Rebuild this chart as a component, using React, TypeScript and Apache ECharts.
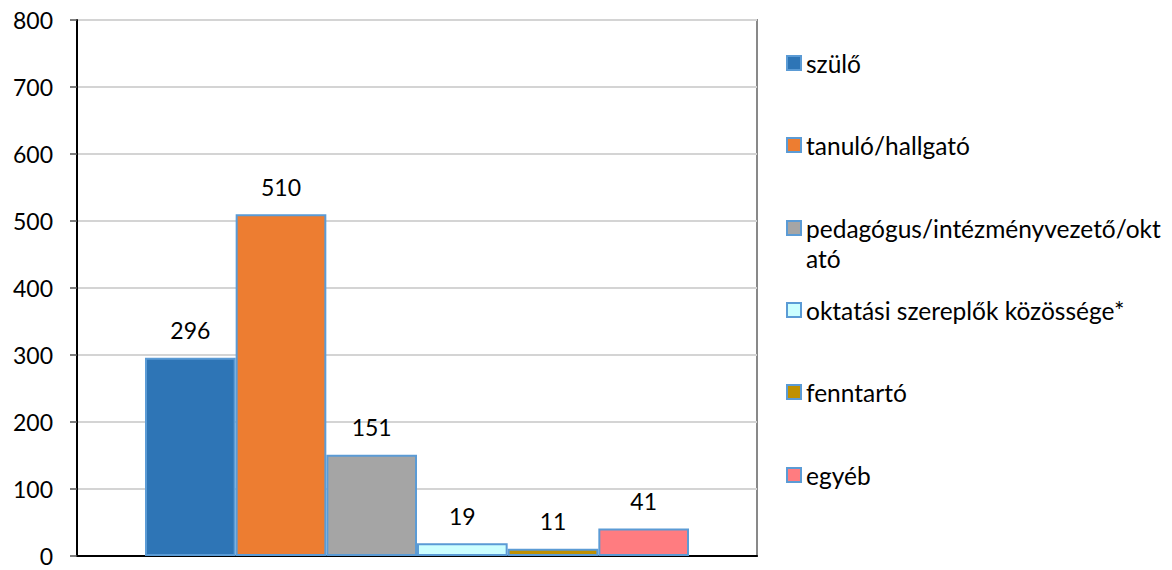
import React, { useEffect, useRef } from "react";
import * as echarts from "echarts";

const categories = [""];
const seriesNames = [
  "szülő",
  "tanuló/hallgató",
  "pedagógus/intézményvezető/oktató",
  "oktatási szereplők közössége*",
  "fenntartó",
  "egyéb",
];
const seriesValues = [296, 510, 151, 19, 11, 41];
const seriesColors = ["#2E75B6", "#ED7D31", "#A5A5A5", "#CCFFFF", "#BF9000", "#FF7C80"];
const yTicks = [0, 100, 200, 300, 400, 500, 600, 700, 800];

const FONT = "Lato";

export default function App() {
  const ref = useRef<HTMLDivElement>(null);
  useEffect(() => {
    if (!ref.current) return;
    const chart = echarts.init(ref.current, undefined, { renderer: "svg" });
    const legendCenters = [63, 145, 228, 310, 392, 475];
    const LH = 30;
    const legends = seriesNames.map((name, i) => {
      const multi = i === 2;
      return {
        show: true,
        orient: "vertical",
        left: 786,
        top: multi ? legendCenters[i] - LH * 1.5 : legendCenters[i] - LH / 2,
        padding: 0,
        itemWidth: 14,
        itemHeight: 14,
        itemGap: 0,
        icon: "rect",
        data: [name],
        formatter: (n: string) =>
          n === "pedagógus/intézményvezető/oktató" ? " \npedagógus/intézményvezető/okt\nató" : n,
        textStyle: {
          fontFamily: FONT,
          fontSize: 24.5,
          color: "#000",
          lineHeight: LH,
        },
      };
    });
    chart.setOption({
      animation: false,
      backgroundColor: "#fff",
      grid: {
        left: 77,
        right: 415,
        top: 20,
        bottom: 14,
        show: true,
        borderColor: "#898989",
        borderWidth: 2,
      },
      legend: legends,
      xAxis: {
        type: "category",
        data: categories,
        axisLine: { show: true, lineStyle: { color: "#000", width: 2 } },
        axisTick: { show: false },
        axisLabel: { show: false },
      },
      yAxis: {
        type: "value",
        min: yTicks[0],
        max: yTicks[yTicks.length - 1],
        interval: 100,
        axisLine: { show: true, lineStyle: { color: "#000", width: 2 } },
        axisTick: { show: true, length: 7, lineStyle: { color: "#555", width: 1.5 } },
        axisLabel: {
          fontFamily: FONT,
          fontSize: 23,
          color: "#000",
          margin: 24,
        },
        splitLine: { show: true, lineStyle: { color: "#D4D4D4", width: 2 } },
      },
      series: seriesNames.map((name, i) => ({
        type: "bar",
        name,
        data: [seriesValues[i]],
        barGap: "0%",
        barCategoryGap: "20%",
        itemStyle: {
          color: seriesColors[i],
          borderColor: "#5B9BD5",
          borderWidth: 2,
        },
        label: {
          show: true,
          position: "top",
          distance: 16,
          fontFamily: FONT,
          fontSize: 23,
          color: "#000",
        },
      })),
    });
    return () => chart.dispose();
  }, []);
  return (
    <div
      ref={ref}
      style={{ position: "fixed", left: 0, top: 0, width: 1172, height: 570 }}
    />
  );
}
